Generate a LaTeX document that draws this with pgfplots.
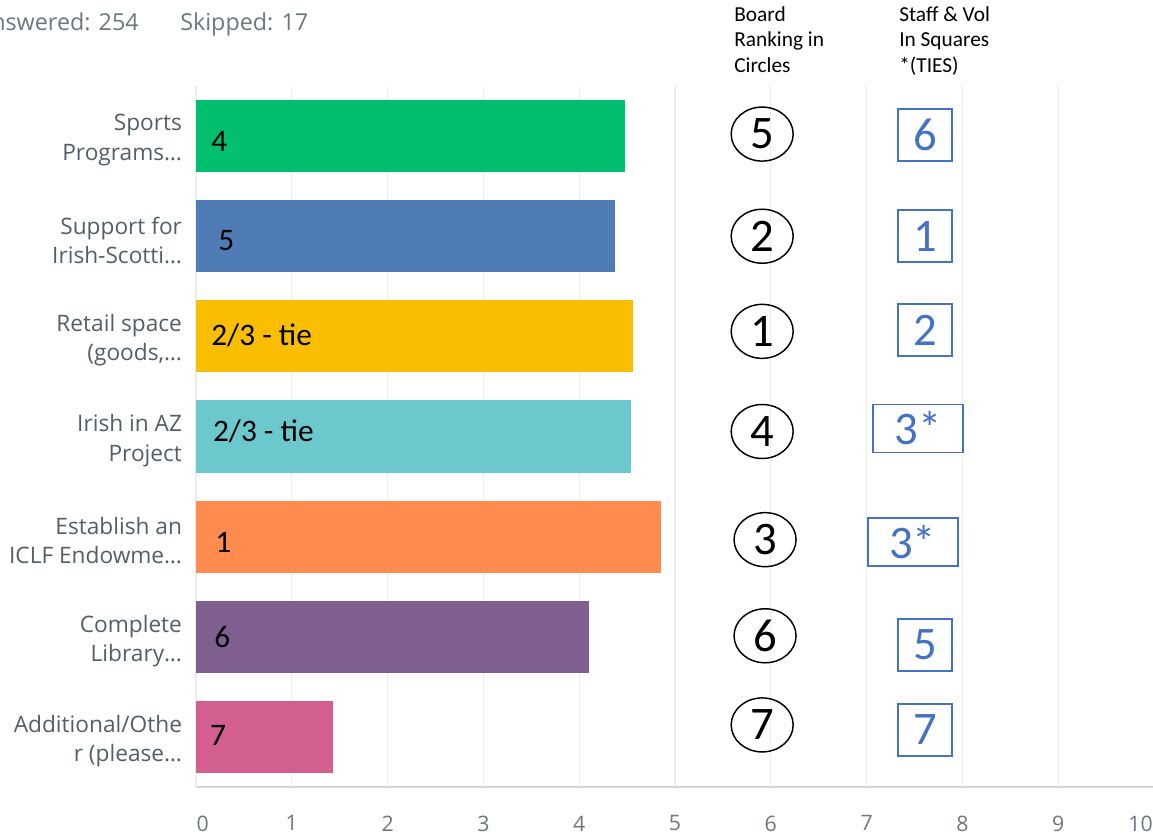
\documentclass[border=0pt]{standalone}
\usepackage{fontspec}
\setmainfont{Open Sans}
\newfontfamily\carlito{Carlito}
\usepackage{pgfplots}
\pgfplotsset{compat=1.18}
\usetikzlibrary{shapes.geometric}
\definecolor{cgreen}{HTML}{00BF6F}
\definecolor{cblue}{HTML}{507CB6}
\definecolor{cyellow}{HTML}{F9BE00}
\definecolor{cteal}{HTML}{6BC8CD}
\definecolor{corange}{HTML}{FF8B4F}
\definecolor{cpurple}{HTML}{7F5F90}
\definecolor{cpink}{HTML}{D25F90}
\definecolor{gridc}{HTML}{ECEDED}
\definecolor{axisc}{HTML}{D3D5D6}
\definecolor{tickc}{HTML}{6B787F}
\definecolor{labc}{HTML}{525F66}
\definecolor{sqblue}{HTML}{4472C4}
\begin{document}
\begin{tikzpicture}[x=0.75pt,y=0.75pt]
\useasboundingbox (0,0) rectangle (1153,836);
\begin{axis}[
  at={(147pt,36.75pt)}, anchor=south west, scale only axis,
  width=718.5pt, height=525.75pt,
  xmin=0, xmax=10, ymin=-0.5, ymax=6.5, y dir=reverse,
  xtick={0,1,...,10}, ytick={0,1,...,6},
  xticklabels={{\hspace*{10pt}0},1,2,3,4,5,6,7,8,9,{\hspace*{-20pt}10}},
  yticklabels={{Sports\\Programs…},{Support for\\Irish-Scotti…},{Retail space\\(goods,…},{Irish in AZ\\Project},{Establish an\\ICLF Endowme…},{Complete\\Library…},{Additional/Othe\\r (please…}},
  xmajorgrids, grid style={color=gridc, line width=1pt},
  axis x line*=bottom, axis y line*=left,
  x axis line style={draw=axisc, line width=1.5pt, -},
  y axis line style={draw=gridc, line width=1.2pt, -},
  major tick length=0pt, tick style={draw=none},
  xticklabel style={font=\fontsize{16}{18}\selectfont, text=tickc, yshift=-18pt},
  yticklabel style={font=\fontsize{17}{22}\selectfont, text=labc, align=right, xshift=-7pt, yshift=-3pt},
  clip=false,
]
\addplot[xbar, bar shift=0pt, bar width=0.72, fill=cgreen, draw=none] coordinates {(4.48,0)};
\addplot[xbar, bar shift=0pt, bar width=0.72, fill=cblue, draw=none] coordinates {(4.37,1)};
\addplot[xbar, bar shift=0pt, bar width=0.72, fill=cyellow, draw=none] coordinates {(4.56,2)};
\addplot[xbar, bar shift=0pt, bar width=0.72, fill=cteal, draw=none] coordinates {(4.54,3)};
\addplot[xbar, bar shift=0pt, bar width=0.72, fill=corange, draw=none] coordinates {(4.85,4)};
\addplot[xbar, bar shift=0pt, bar width=0.72, fill=cpurple, draw=none] coordinates {(4.10,5)};
\addplot[xbar, bar shift=0pt, bar width=0.72, fill=cpink, draw=none] coordinates {(1.43,6)};
% labels inside bars
\tikzset{bl/.style={anchor=west, inner sep=0pt, font=\carlito\fontsize{23.5}{26}\selectfont, text=black}}
\node[bl] at (axis cs:0.157,0.05) {4};
\node[bl] at (axis cs:0.23,1.04) {5};
\node[bl] at (axis cs:0.157,1.99) {2/3 - tie};
\node[bl] at (axis cs:0.175,2.95) {2/3 - tie};
\node[bl] at (axis cs:0.20,4.06) {1};
\node[bl] at (axis cs:0.19,5.0) {6};
\node[bl] at (axis cs:0.145,5.99) {7};
% board ranking (circles)
\tikzset{circ/.style={ellipse, draw=black, line width=1.1pt, minimum width=46.5pt, minimum height=40.5pt, inner sep=0pt, font=\carlito\fontsize{35}{38}\selectfont, text=black}}
\node[circ] at (axis cs:5.91,-0.02) {5};
\node[circ] at (axis cs:5.91,1.0) {2};
\node[circ] at (axis cs:5.91,1.95) {1};
\node[circ] at (axis cs:5.91,2.95) {4};
\node[circ] at (axis cs:5.94,4.03) {3};
\node[circ] at (axis cs:5.94,4.99) {6};
\node[circ] at (axis cs:5.91,5.88) {7};
% staff & vol ranking (squares)
\tikzset{sq/.style={rectangle, draw=sqblue, line width=1.4pt, minimum width=40.5pt, minimum height=39pt, inner sep=0pt, font=\carlito\fontsize{35}{38}\selectfont, text=sqblue}}
\node[sq] at (axis cs:7.61,-0.01) {6};
\node[sq] at (axis cs:7.61,1.0) {1};
\node[sq] at (axis cs:7.61,1.94) {2};
\node[sq, minimum width=67.5pt, minimum height=36pt] at (axis cs:7.54,2.92) {3*};
\node[sq, minimum width=67.5pt, minimum height=36pt] at (axis cs:7.48,4.05) {3*};
\node[sq] at (axis cs:7.61,5.08) {5};
\node[sq] at (axis cs:7.61,5.93) {7};
\end{axis}
% header texts
\node[anchor=north west, align=left, inner sep=0pt, font=\carlito\fontsize{16}{19.2}\selectfont] at (734,830) {Board\\Ranking in\\Circles};
\node[anchor=north west, align=left, inner sep=0pt, font=\carlito\fontsize{16}{19.2}\selectfont] at (899,830) {Staff \& Vol\\In Squares\\*(TIES)};
\node[anchor=base east, inner sep=0pt, font=\fontsize{17.5}{20}\selectfont, text=tickc] at (139,805) {Answered: 254};
\node[anchor=base west, inner sep=0pt, font=\fontsize{17.5}{20}\selectfont, text=tickc] at (180,805) {Skipped: 17};
\end{tikzpicture}
\end{document}
